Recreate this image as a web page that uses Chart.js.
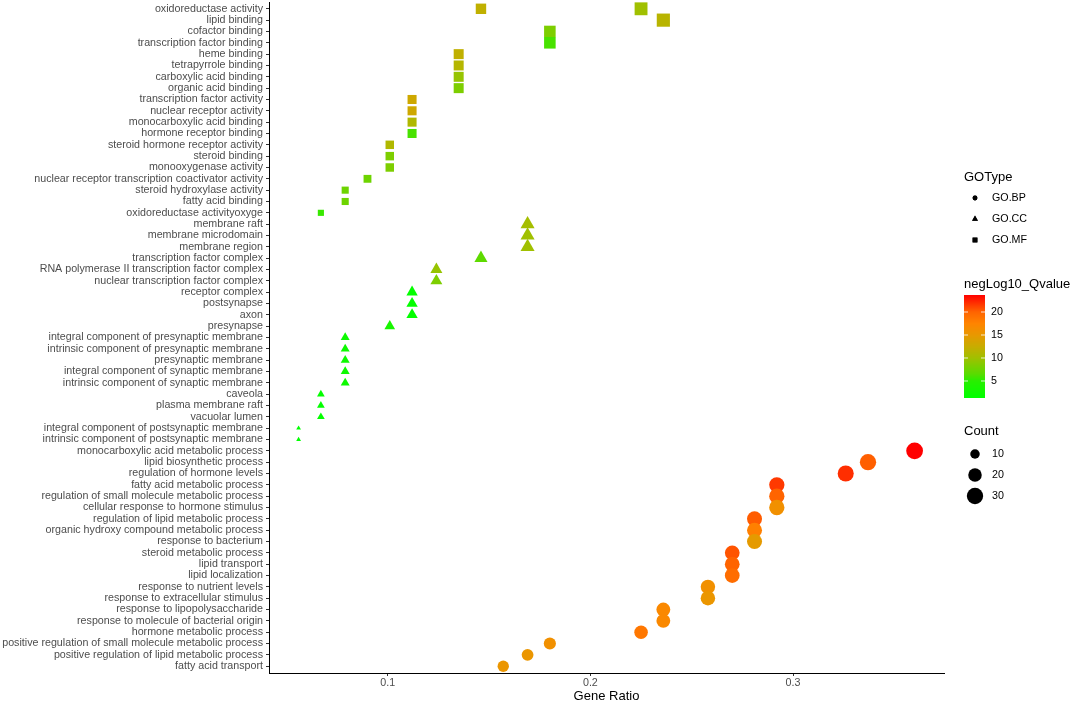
<!DOCTYPE html>
<html>
<head>
<meta charset="utf-8">
<script src="https://cdn.jsdelivr.net/npm/chart.js@4.4.1/dist/chart.umd.min.js"></script>
<style>
  html, body { margin: 0; padding: 0; background: #fff; }
</style>
</head>
<body>
<canvas id="goChart" width="1072" height="704"></canvas>
<script>
// y axis terms, top to bottom
const terms = [
  'oxidoreductase activity', 'lipid binding', 'cofactor binding', 'transcription factor binding',
  'heme binding', 'tetrapyrrole binding', 'carboxylic acid binding', 'organic acid binding',
  'transcription factor activity', 'nuclear receptor activity', 'monocarboxylic acid binding',
  'hormone receptor binding', 'steroid hormone receptor activity', 'steroid binding',
  'monooxygenase activity', 'nuclear receptor transcription coactivator activity',
  'steroid hydroxylase activity', 'fatty acid binding', 'oxidoreductase activityoxyge',
  'membrane raft', 'membrane microdomain', 'membrane region', 'transcription factor complex',
  'RNA polymerase II transcription factor complex', 'nuclear transcription factor complex',
  'receptor complex', 'postsynapse', 'axon', 'presynapse',
  'integral component of presynaptic membrane', 'intrinsic component of presynaptic membrane',
  'presynaptic membrane', 'integral component of synaptic membrane',
  'intrinsic component of synaptic membrane', 'caveola', 'plasma membrane raft', 'vacuolar lumen',
  'integral component of postsynaptic membrane', 'intrinsic component of postsynaptic membrane',
  'monocarboxylic acid metabolic process', 'lipid biosynthetic process', 'regulation of hormone levels',
  'fatty acid metabolic process', 'regulation of small molecule metabolic process',
  'cellular response to hormone stimulus', 'regulation of lipid metabolic process',
  'organic hydroxy compound metabolic process', 'response to bacterium', 'steroid metabolic process',
  'lipid transport', 'lipid localization', 'response to nutrient levels',
  'response to extracellular stimulus', 'response to lipopolysaccharide',
  'response to molecule of bacterial origin', 'hormone metabolic process',
  'positive regulation of small molecule metabolic process',
  'positive regulation of lipid metabolic process', 'fatty acid transport'
];

// GO.MF
const mfTerms = [
  'oxidoreductase activity', 'oxidoreductase activity', 'lipid binding', 'cofactor binding',
  'transcription factor binding', 'heme binding', 'tetrapyrrole binding', 'carboxylic acid binding',
  'organic acid binding', 'transcription factor activity', 'nuclear receptor activity',
  'monocarboxylic acid binding', 'hormone receptor binding', 'steroid hormone receptor activity',
  'steroid binding', 'monooxygenase activity', 'nuclear receptor transcription coactivator activity',
  'steroid hydroxylase activity', 'fatty acid binding', 'oxidoreductase activityoxyge'
];
const mfRatio = [0.146, 0.225, 0.236, 0.180, 0.180, 0.135, 0.135, 0.135, 0.135, 0.112, 0.112,
  0.112, 0.112, 0.101, 0.101, 0.101, 0.090, 0.079, 0.079, 0.067];
const mfCount = [13, 20, 21, 16, 16, 12, 12, 12, 12, 10, 10, 10, 10, 9, 9, 9, 8, 7, 7, 6];
const mfQ = [12, 10, 11.5, 8.3, 6, 12, 11.3, 9.5, 8.3, 13, 13, 11, 6, 11, 8.3, 8.3, 7.5, 7.5, 7.5, 5.5];

// GO.CC
const ccTerms = terms.slice(19, 39);
const ccRatio = [0.169, 0.169, 0.169, 0.146, 0.124, 0.124, 0.112, 0.112, 0.112, 0.101,
  0.079, 0.079, 0.079, 0.079, 0.079, 0.067, 0.067, 0.067, 0.056, 0.056];
const ccCount = [15, 15, 15, 13, 11, 11, 10, 10, 10, 9, 7, 7, 7, 7, 7, 6, 6, 6, 5, 5];
const ccQ = [10.3, 10, 10, 6.8, 9.5, 8.3, 1.6, 1.6, 1.6, 3.5, 2.5, 2.5, 2.5, 2.5, 2.5, 1.6, 1.6, 1.6, 1.3, 1.3];

// GO.BP
const bpTerms = terms.slice(39);
const bpRatio = [0.360, 0.337, 0.326, 0.292, 0.292, 0.292, 0.281, 0.281, 0.281, 0.270,
  0.270, 0.270, 0.258, 0.258, 0.236, 0.236, 0.225, 0.180, 0.169, 0.157];
const bpCount = [32, 30, 29, 26, 26, 26, 25, 25, 25, 24, 24, 24, 23, 23, 21, 21, 20, 16, 15, 14];
const bpQ = [23.7, 20.2, 22, 21.6, 20, 16, 20.3, 17.8, 14.8, 20.6, 20, 19.3, 16, 15.3, 17, 17,
  18.5, 16, 15.3, 15.3];

const xTicks = [0.1, 0.2, 0.3];
const qTicks = [5, 10, 15, 20];
const countTicks = [10, 20, 30];
const goTypes = ['GO.BP', 'GO.CC', 'GO.MF'];

// colour bar stops (q value, colour)
const qStops = [1.3, 5, 6.5, 10, 12.5, 15, 17.5, 20, 23.7];
const qStopColors = ['#00ff00', '#28ee00', '#58dc00', '#a0c000', '#c8ac00', '#e89800', '#ff8400', '#ff6400', '#ff0000'];

const FONT = "'Liberation Sans', Arial, sans-serif";
const allQ = bpQ.concat(ccQ, mfQ);
const qMin = Math.min(...allQ), qMax = Math.max(...allQ);
const allCount = bpCount.concat(ccCount, mfCount);
const cMin = Math.min(...allCount), cMax = Math.max(...allCount);

function hexRgb(h) { return [1, 3, 5].map(i => parseInt(h.substr(i, 2), 16)); }
const stopRgb = qStopColors.map(hexRgb);
function qColor(q) {
  q = Math.max(qStops[0], Math.min(qStops[qStops.length - 1], q));
  let i = 0;
  while (i < qStops.length - 2 && q > qStops[i + 1]) i++;
  const t = (q - qStops[i]) / (qStops[i + 1] - qStops[i]);
  const a = stopRgb[i], b = stopRgb[i + 1];
  const c = a.map((v, k) => Math.round(v + (b[k] - v) * t));
  return `rgb(${c[0]},${c[1]},${c[2]})`;
}

// point diameter in px from Count (area scale)
function diam(c) { return 4 + 12.8 * Math.sqrt((c - cMin) / (cMax - cMin)); }
const styleFactor = { circle: 0.5, triangle: 0.69, rect: 0.672 };

function makeSet(label, names, ratio, count, q, style) {
  return {
    label: label,
    data: names.map((n, i) => ({ x: ratio[i], y: terms.indexOf(n) + 1 })),
    pointStyle: style,
    pointRadius: count.map(c => diam(c) * styleFactor[style]),
    pointHoverRadius: count.map(c => diam(c) * styleFactor[style]),
    pointBackgroundColor: q.map(qColor),
    pointBorderWidth: 0,
    pointBorderColor: 'rgba(0,0,0,0)'
  };
}

const legendPlugin = {
  id: 'ggLegend',
  afterDraw(chart) {
    const c = chart.ctx;
    const x0 = 964;
    c.save();
    c.textBaseline = 'middle';
    c.textAlign = 'left';
    c.fillStyle = '#000';
    c.font = `13px ${FONT}`;
    c.fillText('GOType', x0, 177);
    c.fillText('negLog10_Qvalue', x0, 284);
    c.fillText('Count', x0, 431);

    // shape keys
    c.font = `10.7px ${FONT}`;
    const shapes = ['circle', 'triangle', 'rect'];
    const keyR = { circle: 2.4, triangle: 3.4, rect: 3.4 };
    goTypes.forEach((g, i) => {
      const y = 198 + i * 21;
      Chart.helpers.drawPoint(c, { pointStyle: shapes[i], radius: keyR[shapes[i]], borderWidth: 0 }, 975, y);
      c.fillStyle = '#000';
      c.fill();
      c.fillText(g, 992, y);
    });

    // colour bar
    const top = 295, bot = 398, bx = 964, bw = 21;
    for (let y = top; y < bot; y++) {
      const q = qMax - (y + 0.5 - top) / (bot - top) * (qMax - qMin);
      c.fillStyle = qColor(q);
      c.fillRect(bx, y, bw, 1);
    }
    c.strokeStyle = 'rgba(255,255,255,0.8)';
    c.lineWidth = 1;
    c.fillStyle = '#000';
    qTicks.forEach(v => {
      const y = top + (qMax - v) / (qMax - qMin) * (bot - top);
      c.beginPath();
      c.moveTo(bx, y); c.lineTo(bx + 4, y);
      c.moveTo(bx + bw - 4, y); c.lineTo(bx + bw, y);
      c.stroke();
      c.fillText(String(v), 991, y);
    });

    // size keys
    countTicks.forEach((v, i) => {
      const y = 454 + i * 21;
      c.beginPath();
      c.arc(975, y, diam(v) / 2, 0, Math.PI * 2);
      c.fillStyle = '#000';
      c.fill();
      c.fillText(String(v), 992, y);
    });
    c.restore();
  }
};

const ctx = document.getElementById('goChart').getContext('2d');
const goChart = new Chart(ctx, {
  type: 'scatter',
  data: {
    datasets: [
      makeSet('GO.MF', mfTerms, mfRatio, mfCount, mfQ, 'rect'),
      makeSet('GO.CC', ccTerms, ccRatio, ccCount, ccQ, 'triangle'),
      makeSet('GO.BP', bpTerms, bpRatio, bpCount, bpQ, 'circle')
    ]
  },
  options: {
    responsive: false,
    animation: false,
    layout: { autoPadding: false, padding: { top: 2, right: 128, bottom: 0, left: 0 } },
    plugins: { legend: { display: false }, tooltip: { enabled: false } },
    scales: {
      x: {
        type: 'linear',
        min: 0.0414,
        max: 0.3745,
        afterBuildTicks: s => { s.ticks = xTicks.map(v => ({ value: v })); },
        afterFit: s => { s.height = 31; },
        ticks: {
          color: '#4d4d4d',
          font: { family: FONT, size: 10.7 },
          padding: 1,
          maxRotation: 0,
          callback: v => String(v)
        },
        grid: { drawOnChartArea: false, drawTicks: true, tickLength: 3, color: '#333' },
        border: { display: true, color: '#000', width: 1 },
        title: { display: true, text: 'Gene Ratio', color: '#000', font: { family: FONT, size: 13 }, padding: 0 }
      },
      y: {
        type: 'linear',
        reverse: true,
        min: 0.4,
        max: 59.6,
        afterBuildTicks: s => { s.ticks = terms.map((t, i) => ({ value: i + 1 })); },
        afterFit: s => { s.width = 269; s.paddingTop = 0; s.paddingBottom = 0; },
        ticks: {
          autoSkip: false,
          color: '#4d4d4d',
          font: { family: FONT, size: 10.7 },
          padding: 3,
          callback: v => terms[v - 1]
        },
        grid: { drawOnChartArea: false, drawTicks: true, tickLength: 3, color: '#333' },
        border: { display: true, color: '#000', width: 1 }
      }
    }
  },
  plugins: [legendPlugin]
});
</script>
</body>
</html>
